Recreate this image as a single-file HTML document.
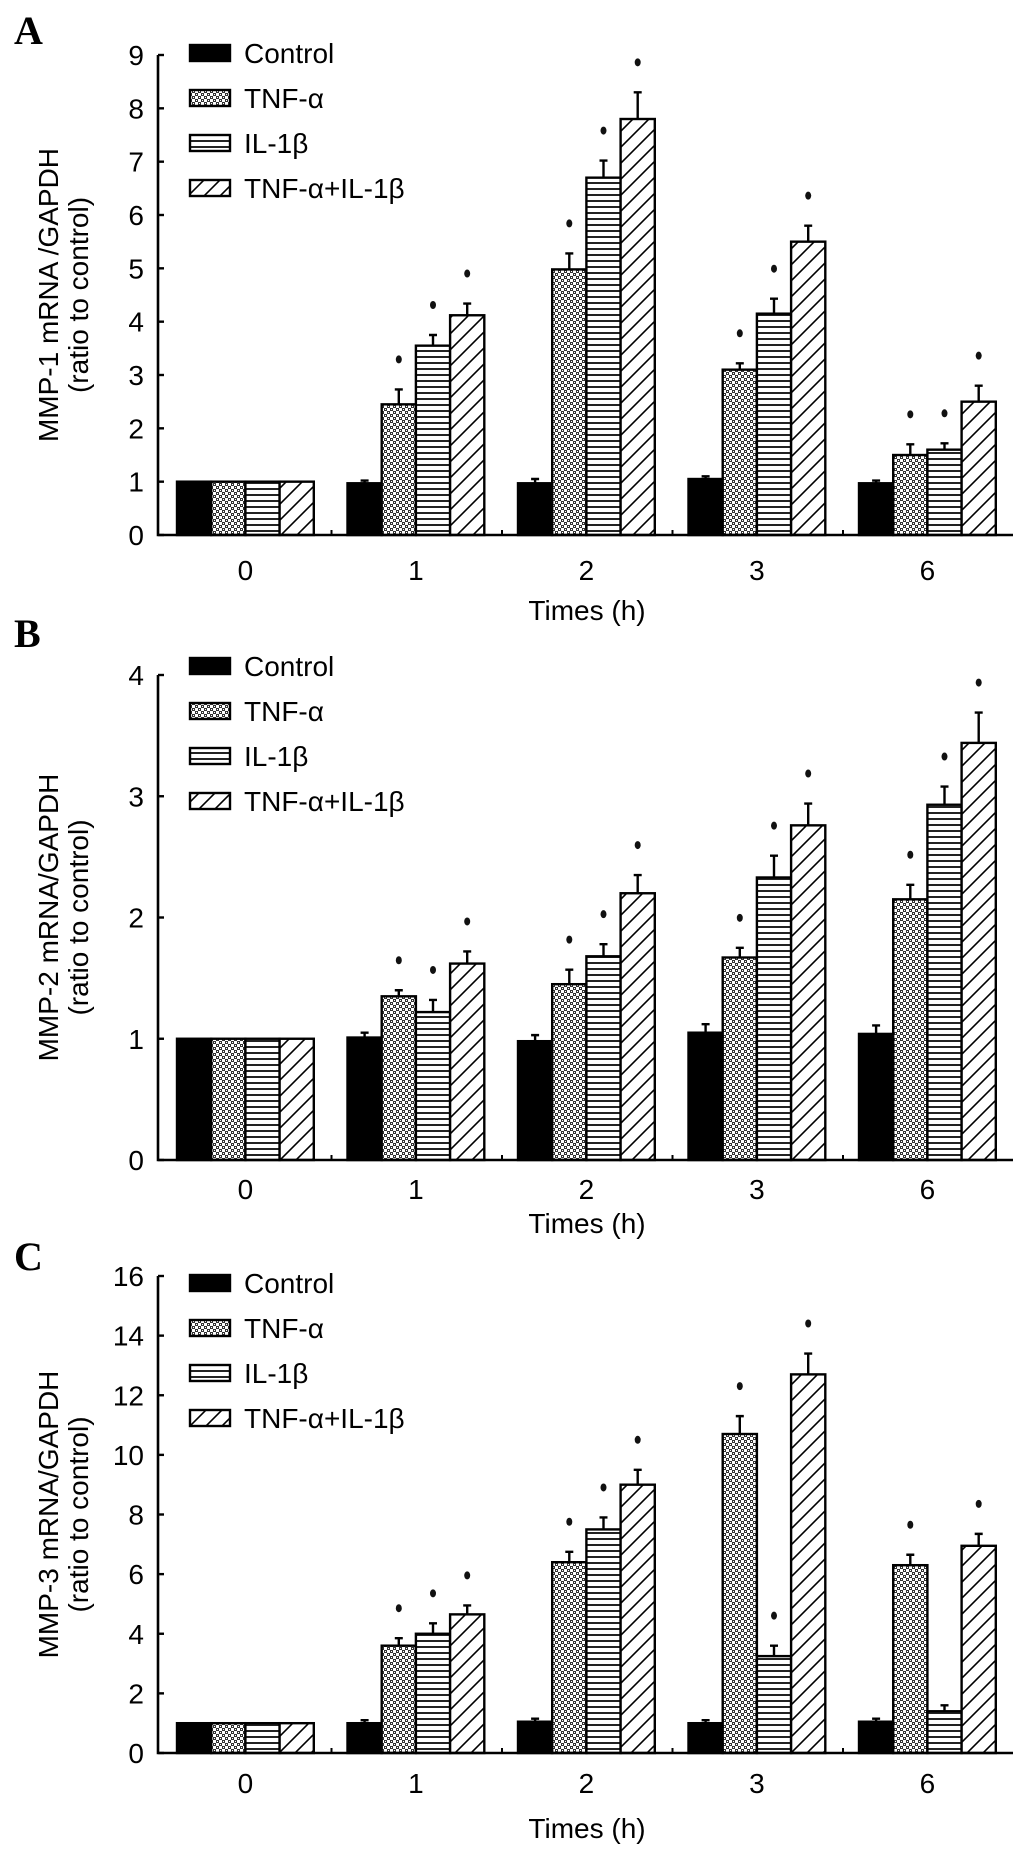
<!DOCTYPE html>
<html><head><meta charset="utf-8">
<style>
html,body{margin:0;padding:0;background:#fff;}
svg{display:block;}
text{font-family:"Liberation Sans",Arial,sans-serif;fill:#000;}
text.serif{font-family:"Liberation Serif","Times New Roman",serif;font-weight:bold;}
</style></head>
<body>
<svg id="fig" width="1029" height="1859" viewBox="0 0 1029 1859" xmlns="http://www.w3.org/2000/svg">
<defs>
<pattern id="pDots" patternUnits="userSpaceOnUse" width="6" height="6">
<rect width="6" height="6" fill="#fff"/>
<rect x="0" y="0" width="3" height="3" fill="#333"/>
<rect x="3" y="3" width="3" height="3" fill="#333"/>
<rect x="1" y="1" width="1" height="1" fill="#fff"/>
<rect x="4" y="4" width="1" height="1" fill="#fff"/>
</pattern>
<pattern id="pHoriz" patternUnits="userSpaceOnUse" width="8" height="6">
<rect width="8" height="6" fill="#fff"/>
<rect x="0" y="2" width="8" height="2" fill="#222"/>
</pattern>
<pattern id="pDiag" patternUnits="userSpaceOnUse" width="16" height="16">
<rect width="16" height="16" fill="#fff"/>
<path d="M-4,4 L4,-4 M0,16 L16,0 M12,20 L20,12" stroke="#000" stroke-width="1.6"/>
</pattern>
</defs>
</svg>
<script>
// shared categories and series names
const categories = ["0","1","2","3","6"];
const seriesNames = ["Control","TNF-\u03b1","IL-1\u03b2","TNF-\u03b1+IL-1\u03b2"];

// Panel A (MMP-1)
const aControl = [1, 0.97, 0.97, 1.05, 0.97];
const aTNF = [1, 2.45, 4.98, 3.1, 1.5];
const aIL = [1, 3.55, 6.7, 4.15, 1.6];
const aCombo = [1, 4.12, 7.8, 5.5, 2.5];
const aControlErr = [0, 0.05, 0.08, 0.05, 0.05];
const aTNFErr = [0, 0.28, 0.3, 0.12, 0.2];
const aILErr = [0, 0.2, 0.32, 0.28, 0.12];
const aComboErr = [0, 0.22, 0.5, 0.3, 0.3];
const aTicks = [0,1,2,3,4,5,6,7,8,9];

// Panel B (MMP-2)
const bControl = [1, 1.01, 0.98, 1.05, 1.04];
const bTNF = [1, 1.35, 1.45, 1.67, 2.15];
const bIL = [1, 1.22, 1.68, 2.33, 2.93];
const bCombo = [1, 1.62, 2.2, 2.76, 3.44];
const bControlErr = [0, 0.04, 0.05, 0.07, 0.07];
const bTNFErr = [0, 0.05, 0.12, 0.08, 0.12];
const bILErr = [0, 0.1, 0.1, 0.18, 0.15];
const bComboErr = [0, 0.1, 0.15, 0.18, 0.25];
const bTicks = [0,1,2,3,4];

// Panel C (MMP-3)
const cControl = [1, 1, 1.05, 1, 1.05];
const cTNF = [1, 3.6, 6.4, 10.7, 6.3];
const cIL = [1, 4, 7.5, 3.25, 1.4];
const cCombo = [1, 4.65, 9, 12.7, 6.95];
const cControlErr = [0, 0.1, 0.1, 0.1, 0.1];
const cTNFErr = [0, 0.25, 0.35, 0.6, 0.35];
const cILErr = [0, 0.35, 0.4, 0.35, 0.2];
const cComboErr = [0, 0.3, 0.5, 0.7, 0.4];
const cTicks = [0,2,4,6,8,10,12,14,16];
// significance flags (per series, per category)
const aStars = [[0,0,0,0,0],[0,1,1,1,1],[0,1,1,1,1],[0,1,1,1,1]];
const bStars = [[0,0,0,0,0],[0,1,1,1,1],[0,1,1,1,1],[0,1,1,1,1]];
const cStars = [[0,0,0,0,0],[0,1,1,1,1],[0,1,1,1,0],[0,1,1,1,1]];

const NS = "http://www.w3.org/2000/svg";
const svg = document.getElementById("fig");
const fills = ["#000","url(#pDots)","url(#pHoriz)","url(#pDiag)"];
const slug = ["control","tnf","il1b","tnf-il1b"];

function el(tag, attrs, parent){
  const e = document.createElementNS(NS, tag);
  for (const k in attrs) e.setAttribute(k, attrs[k]);
  (parent||svg).appendChild(e);
  return e;
}

const X0 = 158, XEND = 1013, G0 = 177, PITCH = 170.5, BW = 34.2;
function xBar(ci, si){ return G0 + ci*PITCH + si*BW; }
function xCenter(ci){ return G0 + ci*PITCH + 2*BW; }

function drawPanel(p){
  const g = el("g", {});
  
  
  const yS = v => p.y0 - (v/p.max)*(p.y0 - p.yTop);

  const lab = el("text", {x:14, y:p.labelY, "class":"serif", "font-size":"40"}, g);
  lab.textContent = p.key.toUpperCase();
  
  

  const series = p.series;
  for (let si=0; si<4; si++){
    for (let ci=0; ci<categories.length; ci++){
      const v = series[si][ci];
      const x = xBar(ci, si), y = yS(v);
      const r = el("rect", {x:x, y:y, width:BW, height:p.y0-y, fill:fills[si], stroke:"#000", "stroke-width":"2.4"}, g);
      
      
      const e = p.errs[si][ci];
      if (e > 0){
        const cx = x + BW/2, ye = yS(v+e);
        const eb = el("path", {d:`M${cx},${y} L${cx},${ye} M${cx-4},${ye} L${cx+4},${ye}`, stroke:"#000", "stroke-width":"2.4", fill:"none"}, g);
        
        
      }
      if (p.stars[si][ci]){
        const cx = x + BW/2, ys = yS(v+e) - 30;
        const st = el("ellipse", {cx:cx, cy:ys, rx:3, ry:4, fill:"#111"}, g);
        
        
      }
    }
  }
  const ax = el("path", {d:`M${X0},${p.yTop} L${X0},${p.y0} L${XEND},${p.y0}`, stroke:"#000", "stroke-width":"2.6", fill:"none"}, g);
  
  
  for (const t of p.ticks){
    const y = yS(t);
    el("line", {x1:X0, x2:X0+6, y1:y, y2:y, stroke:"#000", "stroke-width":"2.4"}, g);
    const tl = el("text", {x:X0-14, y:y+10, "font-size":"28", "text-anchor":"end"}, g);
    tl.textContent = t;
    
    
  }
  for (let ci=1; ci<categories.length; ci++){
    const x = G0 + ci*PITCH - 16;
    el("line", {x1:x, x2:x, y1:p.y0, y2:p.y0-5, stroke:"#000", "stroke-width":"2"}, g);
  }
  for (let ci=0; ci<categories.length; ci++){
    const tl = el("text", {x:xCenter(ci), y:p.catY, "font-size":"28", "text-anchor":"middle"}, g);
    tl.textContent = categories[ci];
    
    
  }
  const xt = el("text", {x:587, y:p.xTitleY, "font-size":"28", "text-anchor":"middle"}, g);
  xt.textContent = "Times (h)";
  
  

  const midY = (p.y0 + p.yTop)/2;
  const yt = el("text", {transform:`translate(58,${midY}) rotate(-90)`, "font-size":"28", "text-anchor":"middle"}, g);
  yt.textContent = p.ytitle;
  
  
  const yt2 = el("text", {transform:`translate(88,${midY}) rotate(-90)`, "font-size":"28", "text-anchor":"middle"}, g);
  yt2.textContent = "(ratio to control)";
  
  

  for (let si=0; si<4; si++){
    const cy = p.legY + si*45;
    const lg = el("g", {}, g);
    
    
    el("rect", {x:190, y:cy-8, width:40, height:16, fill:fills[si], stroke:"#000", "stroke-width":"2.4"}, lg);
    const lt = el("text", {x:244, y:cy+10, "font-size":"28"}, lg);
    lt.textContent = seriesNames[si];
  }
}

drawPanel({key:"a", y0:535, yTop:55, max:9, ticks:aTicks, labelY:44, catY:580, xTitleY:620, legY:53,
  ytitle:"MMP-1 mRNA /GAPDH",
  series:[aControl,aTNF,aIL,aCombo], errs:[aControlErr,aTNFErr,aILErr,aComboErr], stars:aStars});
drawPanel({key:"b", y0:1160, yTop:675, max:4, ticks:bTicks, labelY:647, catY:1199, xTitleY:1233, legY:666,
  ytitle:"MMP-2 mRNA/GAPDH",
  series:[bControl,bTNF,bIL,bCombo], errs:[bControlErr,bTNFErr,bILErr,bComboErr], stars:bStars});
drawPanel({key:"c", y0:1753, yTop:1276, max:16, ticks:cTicks, labelY:1270, catY:1793, xTitleY:1838, legY:1283,
  ytitle:"MMP-3 mRNA/GAPDH",
  series:[cControl,cTNF,cIL,cCombo], errs:[cControlErr,cTNFErr,cILErr,cComboErr], stars:cStars});
</script>
</body></html>
